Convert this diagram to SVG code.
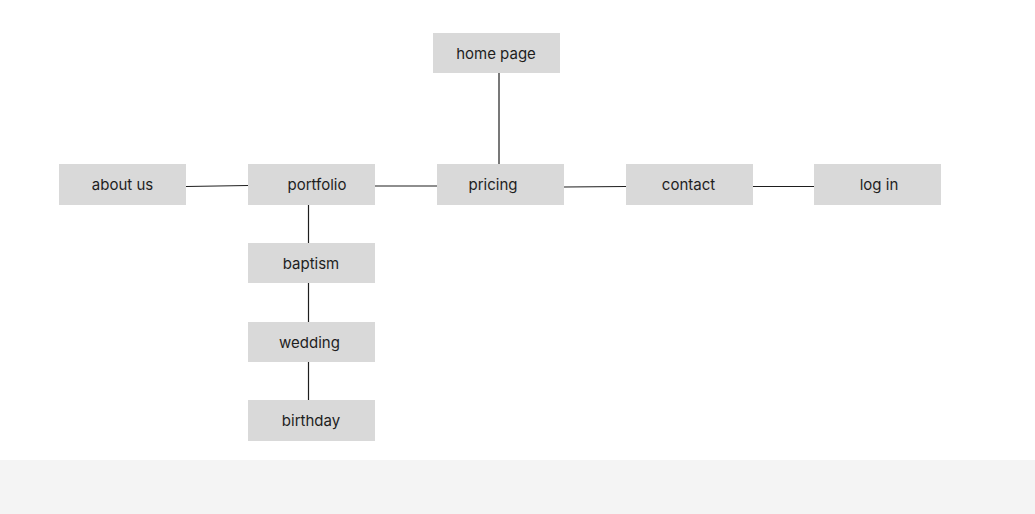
<svg xmlns="http://www.w3.org/2000/svg" width="1035" height="514" viewBox="0 0 1035 514">
<style>
.box{fill:#d9d9d9}
.lbl{font-family:Inter,"Liberation Sans",sans-serif;font-size:15px;fill:#1e1e1e;text-anchor:middle}
.ln{stroke:#1e1e1e;stroke-width:1.2;fill:none}
</style>
<rect width="1035" height="514" fill="#ffffff"/>
<rect x="0" y="460" width="1035" height="54" fill="#f4f4f4"/>
<g id="connectors">
<line class="ln" x1="499" y1="73" x2="499" y2="164"/>
<line class="ln" x1="186" y1="186.5" x2="248" y2="185.5"/>
<line class="ln" x1="375" y1="186" x2="437" y2="186"/>
<line class="ln" x1="564" y1="187" x2="626" y2="186.5"/>
<line class="ln" x1="753" y1="186.5" x2="814" y2="186.5"/>
<line class="ln" x1="308.5" y1="205" x2="308.5" y2="243"/>
<line class="ln" x1="308.5" y1="283" x2="308.5" y2="322"/>
<line class="ln" x1="308.5" y1="362" x2="308.5" y2="400"/>
</g>
<g id="home"><rect class="box" x="433" y="33" width="127" height="40"/><text class="lbl" x="496" y="59">home page</text></g>
<g id="about"><rect class="box" x="59" y="164" width="127" height="41"/><text class="lbl" x="122.5" y="190">about us</text></g>
<g id="portfolio"><rect class="box" x="248" y="164" width="127" height="41"/><text class="lbl" x="317" y="190">portfolio</text></g>
<g id="pricing"><rect class="box" x="437" y="164" width="127" height="41"/><text class="lbl" x="493" y="190">pricing</text></g>
<g id="contact"><rect class="box" x="626" y="164" width="127" height="41"/><text class="lbl" x="688.5" y="190">contact</text></g>
<g id="login"><rect class="box" x="814" y="164" width="127" height="41"/><text class="lbl" x="879" y="190">log in</text></g>
<g id="baptism"><rect class="box" x="248" y="243" width="127" height="40"/><text class="lbl" x="311" y="269">baptism</text></g>
<g id="wedding"><rect class="box" x="248" y="322" width="127" height="40"/><text class="lbl" x="309.5" y="348">wedding</text></g>
<g id="birthday"><rect class="box" x="248" y="400" width="127" height="41"/><text class="lbl" x="311" y="426">birthday</text></g>
</svg>
